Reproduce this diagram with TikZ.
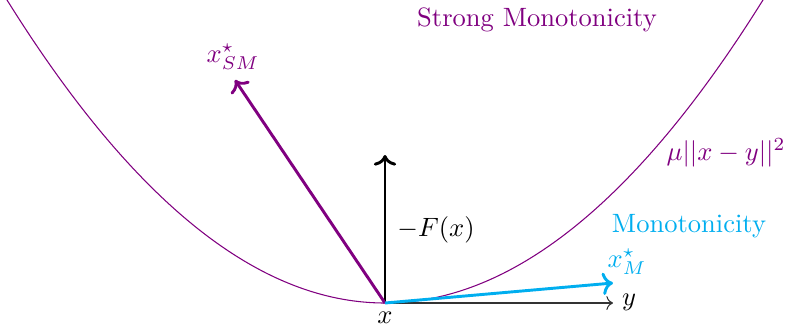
\documentclass[tikz,border=0pt]{standalone}
\usetikzlibrary{arrows.meta}
\definecolor{mpurple}{RGB}{128,0,128}
\definecolor{mcyan}{RGB}{0,174,239}
\begin{document}
\begin{tikzpicture}[x=0.377pt,y=-0.377pt,
  vec/.style={->,line width=1.1pt},
  lbl/.style={inner sep=0pt}]
\useasboundingbox (0,0) rectangle (788,332);
\begin{scope}
\clip (0,0) rectangle (788,332);
\draw[mpurple,line width=0.4pt] plot[domain=0:788,samples=120,smooth] (\x,{303-0.00212*(\x-385)*(\x-385)});
\end{scope}
\coordinate (o) at (385,303);
\coordinate (yend) at (613,303);
\coordinate (fend) at (385,155);
\coordinate (smend) at (235,80);
\coordinate (mend) at (613,283);
\draw[->,line width=0.4pt,black!80] (o) -- (yend);
\draw[vec,black] (o) -- (fend);
\draw[vec,mpurple] (o) -- (smend);
\draw[vec,mcyan] (o) -- (mend);
\node[lbl] (xl) at (385,318) {$x$};
\node[lbl] (yl) at (629,302) {$y$};
\node[lbl] (fl) at (436,230) {$-F(x)$};
\node[lbl,text=mpurple] (sml) at (233,57) {$x^\star_{SM}$};
\node[lbl,text=mcyan] (ml) at (627,262) {$x^\star_{M}$};
\node[lbl,text=mcyan] (mon) at (689,226) {Monotonicity};
\node[lbl,text=mpurple] (smon) at (537,20) {Strong Monotonicity};
\node[lbl,text=mpurple] (mu) at (726,153) {$\mu||x-y||^2$};
\end{tikzpicture}
\end{document}
